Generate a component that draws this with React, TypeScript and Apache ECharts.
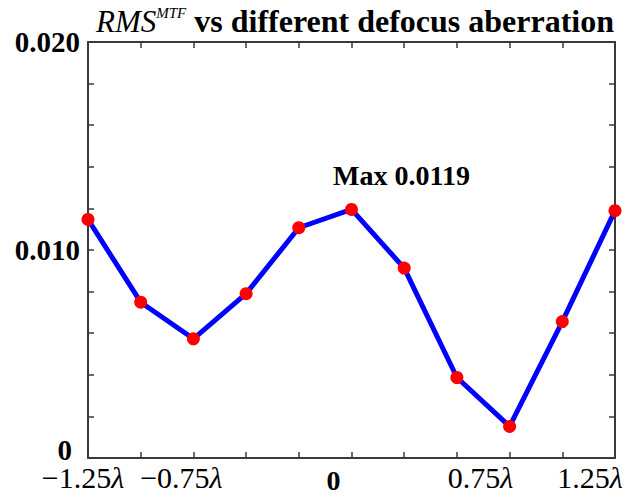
import React, { useEffect, useRef } from 'react';
import * as echarts from 'echarts';

// Defocus aberration (in units of lambda) and RMS^MTF values
const defocus = [-1.25, -1.0, -0.75, -0.5, -0.25, 0, 0.25, 0.5, 0.75, 1.0, 1.25];
const rmsMtf = [0.01147, 0.00749, 0.00573, 0.0079, 0.01107, 0.01195, 0.00913, 0.00387, 0.00152, 0.00656, 0.01189];

// Tick labels
const xLabelValues = [-1.25, -0.75, 0, 0.75, 1.25];
const xLabelTexts = ['\u22121.25', '\u22120.75', '0', '0.75', '1.25'];
const yLabelValues = [0, 0.01, 0.02];
const yLabelTexts = ['0', '0.010', '0.020'];

const maxIndex = 5;
const maxLabel = 'Max 0.0119';

const SERIF = "'Liberation Serif', 'Times New Roman', serif";
const AXIS_COLOR = '#3a3a3a';

export default function App() {
  const ref = useRef<HTMLDivElement>(null);

  useEffect(() => {
    if (!ref.current) return;
    const chart = echarts.init(ref.current, null, { renderer: 'svg' });

    // horizontal nudges (px, to the left) for the x labels, as in the figure
    const xNudge = [5, 12, 18, 29, 25];

    const xRich: any = {
      z: { fontFamily: SERIF, fontWeight: 'bold', fontSize: 28, lineHeight: 24, color: '#000', padding: [6, 36, 0, 0] },
    };
    xLabelValues.forEach((_, i) => {
      xRich['n' + i] = { fontFamily: SERIF, fontSize: 30, lineHeight: 24, color: '#000' };
      xRich['l' + i] = { fontFamily: SERIF, fontStyle: 'italic', fontSize: 30, lineHeight: 24, color: '#000', padding: [0, xNudge[i] * 2, 0, 0] };
    });

    const findIdx = (arr: number[], v: number) => arr.findIndex((a) => Math.abs(a - v) < 1e-9);

    const data = defocus.map((x, i) => {
      if (i === maxIndex) {
        return {
          value: [x, rmsMtf[i]],
          label: {
            show: true,
            position: 'top',
            formatter: maxLabel,
            offset: [50, -8],
            fontFamily: SERIF,
            fontWeight: 'bold',
            fontSize: 28,
            color: '#000',
          },
        };
      }
      return [x, rmsMtf[i]];
    });

    const axisLine = { show: true, onZero: false, lineStyle: { color: AXIS_COLOR, width: 2 } };
    const axisTick = { show: true, inside: true, length: 6, lineStyle: { color: AXIS_COLOR, width: 1.5 } };

    const option: any = {
      animation: false,
      backgroundColor: '#ffffff',
      title: {
        text: '{r|RMS}{s|MTF}{b| vs different defocus aberration}',
        left: 91,
        top: 0,
        textStyle: {
          rich: {
            r: { fontFamily: SERIF, fontStyle: 'italic', fontWeight: 'normal', fontSize: 31, color: '#000' },
            s: { fontFamily: SERIF, fontStyle: 'italic', fontWeight: 'normal', fontSize: 15, color: '#000', verticalAlign: 'top', padding: [0, 0, 14, 0] },
            b: { fontFamily: SERIF, fontWeight: 'bold', fontSize: 32, color: '#000' },
          },
        },
      },
      grid: { left: 88, right: 14, top: 42, bottom: 36, containLabel: false, outerBoundsMode: 'none' },
      xAxis: [
        {
          type: 'value',
          min: -1.25,
          max: 1.25,
          interval: 0.25,
          position: 'bottom',
          axisLine,
          axisTick,
          splitLine: { show: false },
          axisLabel: {
            show: true,
            margin: 7,
            showMinLabel: true,
            showMaxLabel: true,
            hideOverlap: false,
            formatter: (v: number) => {
              const i = findIdx(xLabelValues, v);
              if (i < 0) return '';
              if (xLabelTexts[i] === '0') return '{z|0}';
              return `{n${i}|${xLabelTexts[i]}}{l${i}|\u03BB}`;
            },
            rich: xRich,
          },
        },
        {
          type: 'value',
          min: -1.25,
          max: 1.25,
          interval: 0.25,
          position: 'top',
          axisLine,
          axisTick,
          splitLine: { show: false },
          axisLabel: { show: false },
        },
      ],
      yAxis: [
        {
          type: 'value',
          min: 0,
          max: 0.02,
          interval: 0.002,
          position: 'left',
          axisLine,
          axisTick,
          splitLine: { show: false },
          axisLabel: {
            show: true,
            margin: 8,
            showMinLabel: true,
            showMaxLabel: true,
            formatter: (v: number) => {
              const i = findIdx(yLabelValues, v);
              if (i < 0) return '';
              if (yLabelTexts[i] === '0') return '{z|0}';
              return `{d|${yLabelTexts[i]}}`;
            },
            rich: {
              z: { fontFamily: SERIF, fontWeight: 'bold', fontSize: 29, lineHeight: 22, color: '#000', padding: [0, 8, 16, 0] },
              d: { fontFamily: SERIF, fontWeight: 'bold', fontSize: 29, color: '#000' },
            },
          },
        },
        {
          type: 'value',
          min: 0,
          max: 0.02,
          interval: 0.002,
          position: 'right',
          axisLine,
          axisTick,
          splitLine: { show: false },
          axisLabel: { show: false },
        },
      ],
      series: [
        {
          type: 'line',
          xAxisIndex: 0,
          yAxisIndex: 0,
          data,
          symbol: 'circle',
          symbolSize: 13,
          lineStyle: { color: '#0000ff', width: 5 },
          itemStyle: { color: '#ff0000' },
          emphasis: { disabled: true },
        },
      ],
    };

    chart.setOption(option);
    return () => chart.dispose();
  }, []);

  return (
    <div
      ref={ref}
      style={{ position: 'fixed', left: 0, top: 0, width: 629, height: 494, background: '#fff' }}
    />
  );
}
